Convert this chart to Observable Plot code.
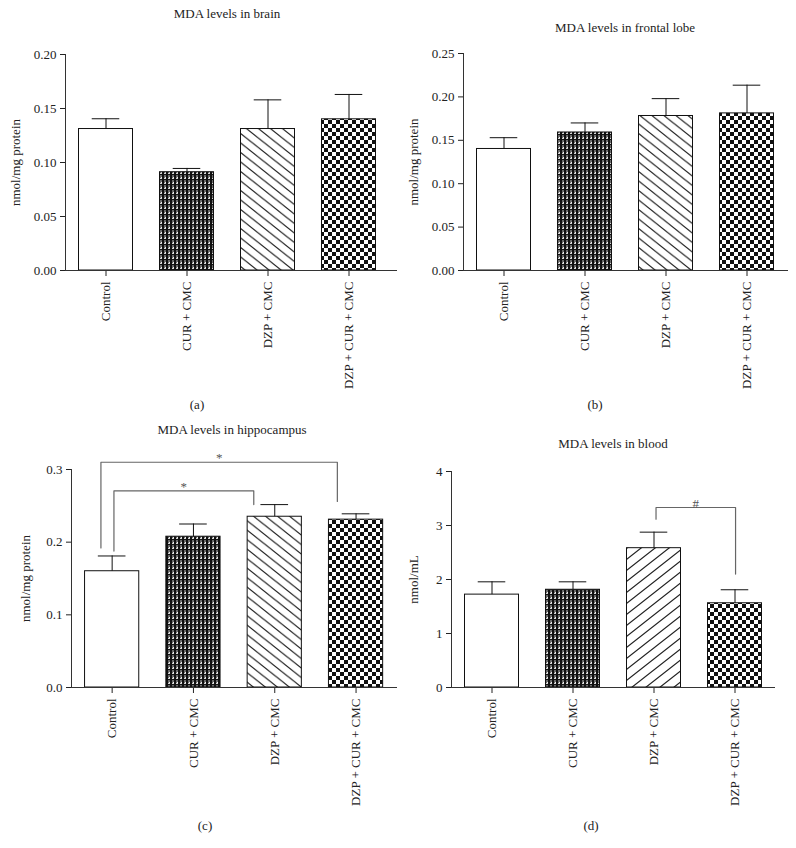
<!DOCTYPE html>
<html>
<head>
<meta charset="utf-8">
<script src="https://cdn.jsdelivr.net/npm/d3@7"></script>
<script src="https://cdn.jsdelivr.net/npm/@observablehq/plot@0.6"></script>
<style>
  body { margin: 0; background: white; }
  #root { position: relative; width: 796px; height: 848px; background: white; font-family: "Liberation Serif", "Times New Roman", serif; color: #222; }
  .lbl { position: absolute; font-size: 13px; white-space: nowrap; transform: translate(-50%, -50%); }
</style>
</head>
<body>
<svg width="0" height="0" style="position:absolute">
  <defs>
    <pattern id="pCur" width="4" height="5" patternUnits="userSpaceOnUse">
      <rect width="4" height="5" fill="#111"/>
      <rect x="0" y="0" width="2" height="3" fill="#6a6a6a"/>
      <rect x="0" y="3" width="2" height="1" fill="#d8d8d8"/>
      <rect x="1" y="2" width="1" height="1" fill="#eee"/>
    </pattern>
    <pattern id="pHatchB" width="12" height="9.5" patternUnits="userSpaceOnUse">
      <path d="M-12,-9.5L24,19M-24,-9.5L12,19M0,-9.5L36,19" stroke="#222" stroke-width="1.2" fill="none"/>
    </pattern>
    <pattern id="pHatchF" width="14" height="11" patternUnits="userSpaceOnUse">
      <path d="M-14,22L28,-11M-28,22L14,-11M0,22L42,-11" stroke="#222" stroke-width="1.2" fill="none"/>
    </pattern>
    <pattern id="pCheck" width="8" height="8" patternUnits="userSpaceOnUse">
      <rect width="8" height="8" fill="#fff"/>
      <rect x="0" y="0" width="4" height="4" fill="#111"/>
      <rect x="4" y="4" width="4" height="4" fill="#111"/>
    </pattern>
  </defs>
</svg>
<div id="root"></div>
<script>
// ---- data ----
const categories = ["Control", "CUR + CMC", "DZP + CMC", "DZP + CUR + CMC"];

const brainMean = [0.131, 0.091, 0.131, 0.140];
const brainSem  = [0.0095, 0.0035, 0.027, 0.023];

const frontalMean = [0.140, 0.159, 0.178, 0.181];
const frontalSem  = [0.013, 0.011, 0.020, 0.0325];

const hippoMean = [0.160, 0.2075, 0.235, 0.231];
const hippoSem  = [0.021, 0.0175, 0.0167, 0.008];

const bloodMean = [1.72, 1.81, 2.58, 1.56];
const bloodSem  = [0.237, 0.147, 0.297, 0.25];

const ticks020 = [0, 0.05, 0.10, 0.15, 0.20];
const ticks025 = [0, 0.05, 0.10, 0.15, 0.20, 0.25];
const ticks03  = [0, 0.1, 0.2, 0.3];
const ticks4   = [0, 1, 2, 3, 4];

// significance brackets: from/to category index, leg offsets (in category units), bracket level, leg ends
const hippoBrackets = [
  {from: 0, to: 2, fromOff: 0.022, toOff: -0.258, y: 0.2706, yFrom: 0.1877, yTo: 0.2517, label: "*"},
  {from: 0, to: 3, fromOff: -0.138, toOff: -0.23, y: 0.31, yFrom: 0.192, yTo: 0.256, label: "*"}
];
const bloodBrackets = [
  {from: 2, to: 3, fromOff: 0.025, toOff: 0.007, y: 3.333, yFrom: 3.117, yTo: 2.1, label: "#"}
];

const fillsBack = ["white", "url(#pCur)", "url(#pHatchB)", "url(#pCheck)"];
const fillsFwd  = ["white", "url(#pCur)", "url(#pHatchF)", "url(#pCheck)"];

const panels = [
  {left: 0, top: 0, mt: 54, mb: 130, ml: 65, mr: 1, step: 81, mean: brainMean, sem: brainSem, ymax: 0.20, ticks: ticks020, fmt: ".2f",
   ylabel: "nmol/mg protein", labelX: 15, fills: fillsBack, brackets: [],
   title: "MDA levels in brain", tx: 227, ty: 14, cap: "(a)", cx: 197, cy: 405},
  {left: 398, top: 0, mt: 53, mb: 130, ml: 65, mr: 8, step: 81, mean: frontalMean, sem: frontalSem, ymax: 0.25, ticks: ticks025, fmt: ".2f",
   ylabel: "nmol/mg protein", labelX: 15, fills: fillsBack, brackets: [],
   title: "MDA levels in frontal lobe", tx: 625, ty: 28, cap: "(b)", cx: 595, cy: 405},
  {left: 0, top: 420, mt: 49, mb: 133, ml: 71, mr: 1, step: 81.3, mean: hippoMean, sem: hippoSem, ymax: 0.3, ticks: ticks03, fmt: ".1f",
   ylabel: "nmol/mg protein", labelX: 25, fills: fillsBack, brackets: hippoBrackets,
   title: "MDA levels in hippocampus", tx: 232, ty: 430, cap: "(c)", cx: 205, cy: 826},
  {left: 398, top: 420, mt: 51, mb: 133, ml: 53, mr: 21, step: 81, mean: bloodMean, sem: bloodSem, ymax: 4, ticks: ticks4, fmt: "d",
   ylabel: "nmol/mL", labelX: 15, fills: fillsFwd, brackets: bloodBrackets,
   title: "MDA levels in blood", tx: 613, ty: 444, cap: "(d)", cx: 591, cy: 826}
];

const root = document.getElementById("root");
const W = 398, H = 400;

for (const p of panels) {
  const rows = categories.map((c, i) => ({cat: c, i, mean: p.mean[i], top: p.mean[i] + p.sem[i], fill: p.fills[i]}));
  const x0 = -0.5;
  const x1 = x0 + (W - p.ml - p.mr) / p.step;
  const bracketPts = p.brackets.flatMap((b, k) => [
    {k, x: b.from + b.fromOff, y: b.yFrom},
    {k, x: b.from + b.fromOff, y: b.y},
    {k, x: b.to + b.toOff, y: b.y},
    {k, x: b.to + b.toOff, y: b.yTo}
  ]);
  const svg = Plot.plot({
    width: W, height: H,
    marginTop: p.mt, marginBottom: p.mb, marginLeft: p.ml, marginRight: p.mr,
    style: {fontFamily: "Liberation Serif, serif", fontSize: "13px", color: "#222", background: "transparent", overflow: "visible"},
    x: {type: "linear", domain: [x0, x1], ticks: [0, 1, 2, 3], tickFormat: i => categories[i], tickRotate: -90, tickSize: 6, tickPadding: 5, label: null},
    y: {domain: [0, p.ymax], ticks: p.ticks, tickFormat: d3.format(p.fmt), tickSize: 5, tickPadding: 4, label: null},
    color: {type: "identity"},
    marks: [
      Plot.rectY(rows, {x1: d => d.i - 1/3, x2: d => d.i + 1/3, y1: 0, y2: "mean", fill: "fill", stroke: "#111", strokeWidth: 1}),
      Plot.ruleX(rows, {x: "i", y1: "mean", y2: "top", stroke: "#111", strokeWidth: 1}),
      Plot.ruleY(rows, {x1: d => d.i - 0.17, x2: d => d.i + 0.17, y: "top", stroke: "#111", strokeWidth: 1}),
      Plot.ruleY([0], {stroke: "#333", strokeWidth: 1}),
      Plot.ruleX([x0], {y1: 0, y2: p.ymax, stroke: "#333", strokeWidth: 1}),
      Plot.line(bracketPts, {x: "x", y: "y", z: "k", stroke: "#666", strokeWidth: 1.2}),
      Plot.text(p.brackets, {x: b => (b.from + b.fromOff + b.to + b.toOff) / 2, y: "y", text: "label", lineAnchor: "bottom", fill: "#555", fontSize: 13}),
      Plot.text([p.ylabel], {text: d => d, frameAnchor: "left", textAnchor: "middle", rotate: -90, dx: p.labelX - p.ml, fontSize: 13, fill: "#222"})
    ]
  });
  svg.style.position = "absolute";
  svg.style.left = p.left + "px";
  svg.style.top = p.top + "px";
  root.appendChild(svg);

  const t = document.createElement("div");
  t.className = "lbl"; t.textContent = p.title;
  t.style.left = p.tx + "px"; t.style.top = p.ty + "px";
  root.appendChild(t);

  const c = document.createElement("div");
  c.className = "lbl"; c.textContent = p.cap;
  c.style.left = p.cx + "px"; c.style.top = p.cy + "px";
  root.appendChild(c);
}
</script>
</body>
</html>
